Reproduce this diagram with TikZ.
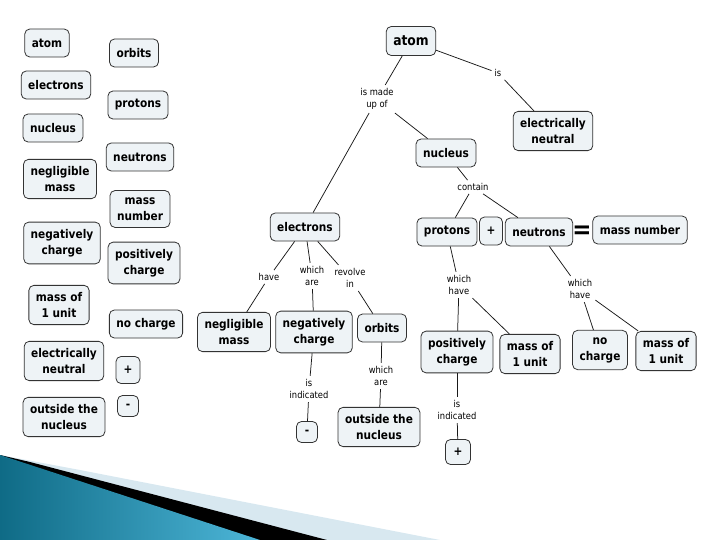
\documentclass[tikz,border=0pt]{standalone}
\usepackage{fontspec}
\setmainfont{DejaVu Sans}[FakeStretch=0.88]

\definecolor{boxfill}{HTML}{EEF3F6}
\definecolor{tealdark}{HTML}{0F6B86}
\definecolor{teallight}{HTML}{4DB6D8}
\definecolor{paleblue}{HTML}{D8E8F0}

\tikzset{
  concept/.style={draw=black!80, fill=boxfill, rounded corners=5pt, line width=0.8pt,
    font=\bfseries\fontsize{12}{16}\selectfont, align=center,
    inner xsep=7pt, inner ysep=7pt, minimum height=28pt},
  signbox/.style={concept, inner sep=1pt, minimum width=21pt, minimum height=21pt},
  linkword/.style={font=\fontsize{9.5}{12.5}\selectfont, align=center, inner sep=3pt},
  link/.style={line width=0.75pt, black!90}
}

\begin{document}
\begin{tikzpicture}[x=1pt,y=-1pt]
        \useasboundingbox (0,0) rectangle (720,540);

        %slide corner
        \fill[paleblue] (0,455) -- (80,470) -- (440,540) -- (0,540) -- cycle;
        \fill[black] (0,455) -- (30,462) -- (327,540) -- (0,540) -- cycle;
        \shade[left color=tealdark, right color=teallight] (0,455) -- (260,540) -- (0,540) -- cycle;

        %word list
        \node[concept] (l-atom) at (47,43) {atom};
        \node[concept] (l-orbits) at (134,53) {orbits};
        \node[concept] (l-electrons) at (56,85) {electrons};
        \node[concept] (l-protons) at (138,105) {protons};
        \node[concept] (l-nucleus) at (53,128) {nucleus};
        \node[concept] (l-neutrons) at (140,157) {neutrons};
        \node[concept] (l-negligible) at (60,179) {negligible\\mass};
        \node[concept] (l-massnumber) at (140,209) {mass\\number};
        \node[concept] (l-negative) at (62,243) {negatively\\charge};
        \node[concept] (l-positive) at (144,263) {positively\\charge};
        \node[concept] (l-massunit) at (59,305) {mass of\\1 unit};
        \node[concept] (l-nocharge) at (146,324) {no charge};
        \node[concept] (l-neutral) at (64,361) {electrically\\neutral};
        \node[signbox, minimum width=24pt, minimum height=27pt] (l-plus) at (128,370) {+};
        \node[signbox] (l-minus) at (128,406) {-};
        \node[concept] (l-outside) at (64,417) {outside the\\nucleus};

        %map
        \node[concept, font=\bfseries\fontsize{14}{16}\selectfont, minimum height=29pt] (atom) at (411,41) {atom};
        \node[concept] (neutral) at (553,131) {electrically\\neutral};
        \node[concept] (nucleus) at (446,153) {nucleus};
        \node[concept] (electrons) at (305,227) {electrons};
        \node[concept] (protons) at (447,232) {protons};
        \node[signbox, minimum width=23pt, minimum height=28pt] (plus) at (491,231) {+};
        \node[concept] (neutrons) at (539,232) {neutrons};
        \node[font=\bfseries\fontsize{26}{26}\selectfont, inner sep=0pt] (equals) at (582,232) {=};
        \node[concept] (massnumber) at (640,230) {mass number};
        \node[concept] (negligible) at (234,332) {negligible\\mass};
        \node[concept] (negative) at (314,332) {negatively\\charge};
        \node[concept] (orbits) at (382,328) {orbits};
        \node[concept] (outside) at (379,427) {outside the\\nucleus};
        \node[signbox] (minus) at (307,432) {-};
        \node[concept] (positive) at (457,352) {positively\\charge};
        \node[concept] (unitp) at (530,354) {mass of\\1 unit};
        \node[concept] (nocharge) at (600,350) {no\\charge};
        \node[concept] (unitn) at (666,351) {mass of\\1 unit};
        \node[signbox, minimum width=25pt, minimum height=25pt] (plusind) at (458,452) {+};

        %linking words
        \node[linkword] (madeup) at (377,99) {is made\\up of};
        \node[linkword] (is) at (498,73) {is};
        \node[linkword] (contain) at (473,187) {contain};
        \node[linkword] (have) at (269,277) {have};
        \node[linkword] (whichare) at (312,276) {which\\are};
        \node[linkword] (revolve) at (350,278) {revolve\\in};
        \node[linkword] (indneg) at (309,389) {is\\indicated};
        \node[linkword] (whichare2) at (381,376) {which\\are};
        \node[linkword] (havep) at (459,285) {which\\have};
        \node[linkword] (haven) at (580,289) {which\\have};
        \node[linkword] (indpos) at (457,410) {is\\indicated};

        \draw[link] (atom) -- (madeup);
        \draw[link] (madeup) -- (electrons);
        \draw[link] (madeup) -- (nucleus);
        \draw[link] (atom) -- (is);
        \draw[link] (is) -- (neutral);
        \draw[link] (nucleus) -- (contain);
        \draw[link] (contain) -- (protons);
        \draw[link] (contain) -- (neutrons);
        \draw[link] (electrons) -- (have);
        \draw[link] (have) -- (negligible);
        \draw[link] (electrons) -- (whichare);
        \draw[link] (whichare) -- (negative);
        \draw[link] (electrons) -- (revolve);
        \draw[link] (revolve) -- (orbits);
        \draw[link] (negative) -- (indneg);
        \draw[link] (indneg) -- (minus);
        \draw[link] (orbits) -- (whichare2);
        \draw[link] (whichare2) -- (outside);
        \draw[link] (protons) -- (havep);
        \draw[link] (havep) -- (positive);
        \draw[link] (havep) -- (unitp);
        \draw[link] (neutrons) -- (haven);
        \draw[link] (haven) -- (nocharge);
        \draw[link] (haven) -- (unitn);
        \draw[link] (positive) -- (indpos);
        \draw[link] (indpos) -- (plusind);
    \end{tikzpicture}
\end{document}
